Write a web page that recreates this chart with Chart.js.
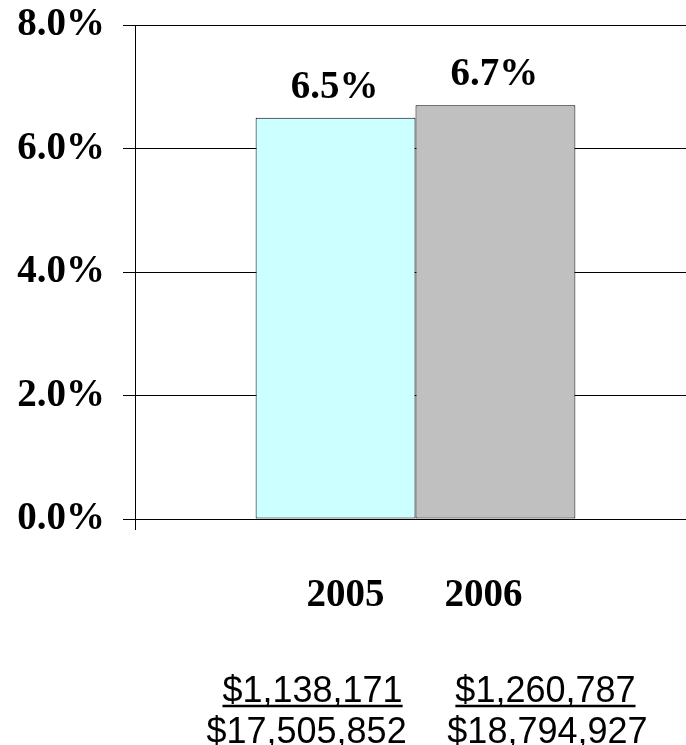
<!DOCTYPE html>
<html>
<head>
<meta charset="utf-8">
<script src="https://cdn.jsdelivr.net/npm/chart.js@4/dist/chart.umd.min.js"></script>
<style>
  html, body { margin: 0; padding: 0; background: #fff; overflow: hidden; }
  #wrap { width: 696px; height: 745px; }
</style>
</head>
<body>
<div id="wrap"><canvas id="c" width="696" height="745"></canvas></div>
<script>
const years = ['2005', '2006'];
const rates = [6.5, 6.7];
const numerators = ['$1,138,171', '$1,260,787'];
const denominators = ['$17,505,852', '$18,794,927'];
const barColors = ['#CCFFFF', '#C0C0C0'];
const yTicks = [0, 2, 4, 6, 8];

const SERIF = 'bold 39px "Liberation Serif", "Times New Roman", serif';
const SANS = '36px "Liberation Sans", Arial, sans-serif';

const annotate = {
  id: 'annotate',
  afterDatasetsDraw(chart) {
    const ctx = chart.ctx;
    const bottom = chart.chartArea.bottom;
    const yearShift = [10, -12];
    const numShift = [-23, 50];
    const denShift = [-29, 52];
    ctx.save();
    ctx.fillStyle = '#000';
    ctx.strokeStyle = '#000';
    chart.data.datasets.forEach((ds, i) => {
      const bar = chart.getDatasetMeta(i).data[0];
      ctx.font = SERIF;
      ctx.textAlign = 'center';
      ctx.textBaseline = 'alphabetic';
      ctx.fillText(ds.data[0].toFixed(1) + '%', bar.x - 1, bar.y - 20);
      ctx.fillText(years[i], bar.x + yearShift[i], bottom + 87);
      ctx.font = SANS;
      const nx = bar.x + numShift[i];
      ctx.fillText(numerators[i], nx, bottom + 183);
      const w = ctx.measureText(numerators[i]).width;
      ctx.lineWidth = 2.5;
      ctx.beginPath();
      ctx.moveTo(nx - w / 2, bottom + 187);
      ctx.lineTo(nx + w / 2, bottom + 187);
      ctx.stroke();
      ctx.fillText(denominators[i], bar.x + denShift[i], bottom + 224);
    });
    ctx.restore();
  }
};

new Chart(document.getElementById('c'), {
  type: 'bar',
  data: {
    labels: [''],
    datasets: years.map((y, i) => ({
      label: y,
      data: [rates[i]],
      backgroundColor: barColors[i],
      borderColor: '#000',
      borderWidth: 1,
      borderSkipped: false,
      categoryPercentage: 0.57,
      barPercentage: 1.0
    }))
  },
  options: {
    responsive: false,
    animation: false,
    devicePixelRatio: 1,
    layout: { padding: { top: 25, right: 0, bottom: 0, left: 0 } },
    plugins: { legend: { display: false }, tooltip: { enabled: false } },
    scales: {
      x: {
        grid: { display: true, drawOnChartArea: false, offset: true, tickLength: 11, color: '#000', lineWidth: 1 },
        border: { display: false },
        ticks: { display: false },
        afterFit(scale) { scale.height = 226; scale.paddingLeft = 0; scale.paddingRight = 0; }
      },
      y: {
        min: 0,
        max: 8,
        afterBuildTicks(scale) { scale.ticks = yTicks.map(v => ({ value: v })); },
        ticks: {
          callback: v => v.toFixed(1) + '%',
          font: { family: '"Liberation Serif", "Times New Roman", serif', size: 39, weight: 'bold', lineHeight: 1.2 },
          color: '#000',
          padding: 18
        },
        grid: { color: '#000', lineWidth: 1, tickLength: 12 },
        border: { display: true, color: '#000', width: 1 },
        afterFit(scale) { scale.width = 135; scale.paddingTop = 0; scale.paddingBottom = 0; }
      }
    }
  },
  plugins: [annotate]
});
</script>
</body>
</html>
